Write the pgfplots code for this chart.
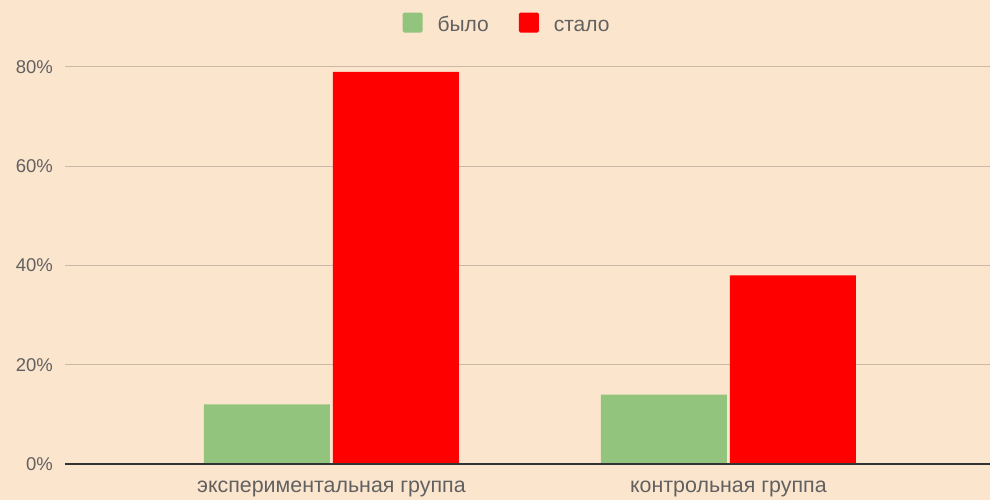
\documentclass[border=0pt]{standalone}
\usepackage{pgfplots}
\pgfplotsset{compat=1.18}
\usepackage{fontspec}
\setmainfont{Liberation Sans}
\usetikzlibrary{backgrounds}
\definecolor{bg}{HTML}{FCE5CD}
\definecolor{bylo}{HTML}{93C47D}
\definecolor{stalo}{HTML}{FF0000}
\definecolor{gridc}{HTML}{C9B9A6}
\definecolor{txt}{HTML}{616161}
\definecolor{zline}{HTML}{333333}

\begin{document}
\begin{tikzpicture}
\begin{axis}[
    name=ax,
    scale only axis,
    width=925pt, height=397pt,
    xmin=-0.671, xmax=1.659,
    ymin=0, ymax=80,
    clip=false,
    axis line style={draw=none},
    major tick length=0pt,
    tick style={draw=none},
    ytick={0,20,40,60,80},
    yticklabel={\pgfmathprintnumber{\tick}\%},
    ymajorgrids,
    major grid style={gridc, line width=1pt},
    xtick={0,1},
    xticklabels={экспериментальная группа, контрольная группа},
    tick label style={text=txt, inner sep=0pt},
    yticklabel style={font=\fontsize{18.5}{20}\selectfont, xshift=-12pt},
    xticklabel style={font=\fontsize{21.4}{24}\selectfont, anchor=base, yshift=-29pt},
    /pgf/number format/assume math mode=true,
    ybar=3pt,
    bar width=126pt,
    legend style={
        at={(0.4768,1.107)}, anchor=center,
        draw=none, fill=none,
        legend columns=2,
        font=\fontsize{21}{24}\selectfont, text=txt,
        nodes={inner sep=0pt, text height=15pt, text depth=5pt},
        /tikz/every odd column/.append style={column sep=15pt},
        /tikz/every even column/.append style={column sep=30pt}
    },
    legend image code/.code={\fill[#1, draw=none, rounded corners=1.5pt] (0pt,-6pt) rectangle (20pt,14pt);},
]
% было
\addplot[fill=bylo, draw=none] coordinates {(0,12) (1,14)};
% стало
\addplot[fill=stalo, draw=none] coordinates {(0,79) (1,38)};
\legend{было, стало}
\draw[zline, line width=2pt] (axis cs:-0.671,0) -- (axis cs:1.659,0);
\end{axis}
\begin{scope}[on background layer]
\fill[bg] ([shift={(-65pt,-36pt)}]ax.south west) rectangle ([shift={(0pt,67pt)}]ax.north east);
\end{scope}
\pgfresetboundingbox
\path[use as bounding box] ([shift={(-65pt,-36pt)}]ax.south west) rectangle ([shift={(0pt,67pt)}]ax.north east);
\end{tikzpicture}
\end{document}
